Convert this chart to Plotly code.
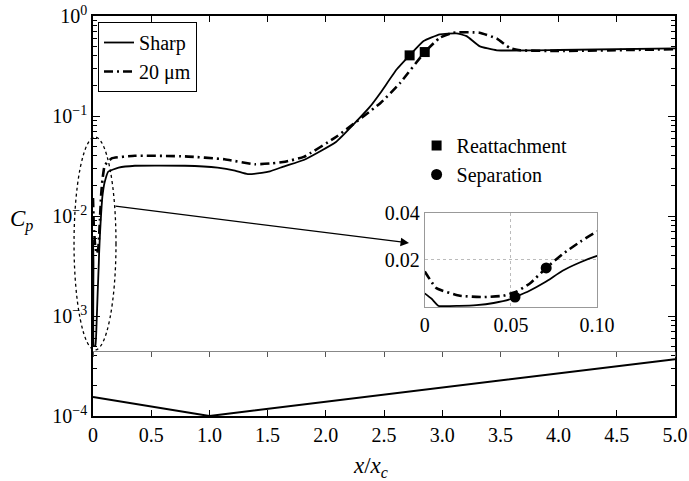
import plotly.graph_objects as go

# ---- data ----
sharp_x = [0, 0.004, 0.008, 0.02, 0.03, 0.04, 0.05, 0.0524, 0.06, 0.07, 0.08, 0.09, 0.10,
           0.13, 0.22, 0.36, 0.79, 1.07, 1.22, 1.33, 1.45, 1.52, 1.65, 1.81, 2.09, 2.38,
           2.47, 2.61, 2.72, 2.84, 2.98, 3.12, 3.21, 3.32, 3.47, 4.0, 5.0]
sharp_y = [0.0058, 0.0035, 0.0005, 0.0005, 0.0008, 0.0017, 0.0034, 0.0042, 0.0066, 0.0106,
           0.0154, 0.0189, 0.0217, 0.0277, 0.0304, 0.0318, 0.0318, 0.0304, 0.0284, 0.0262,
           0.0270, 0.0280, 0.0316, 0.0363, 0.0553, 0.124, 0.171, 0.293, 0.404, 0.562, 0.656,
           0.671, 0.63, 0.50, 0.454, 0.457, 0.475]

rough_x = [0, 0.0068, 0.0204, 0.034, 0.0456, 0.0534, 0.0612, 0.0705, 0.0806, 0.0903, 0.10,
           0.16, 0.36, 0.79, 1.13, 1.39, 1.535, 1.65, 1.81, 2.09, 2.47, 2.64, 2.85, 2.98,
           3.095, 3.32, 3.47, 3.58, 3.67, 4.0, 5.0]
rough_y = [0.0151, 0.0080, 0.0048, 0.0042, 0.0048, 0.0066, 0.0101, 0.0166, 0.0228, 0.0277,
           0.032, 0.0377, 0.040, 0.0395, 0.0369, 0.0329, 0.0336, 0.0349, 0.039, 0.062, 0.135,
           0.215, 0.436, 0.607, 0.681, 0.681, 0.593, 0.48, 0.454, 0.447, 0.465]

reattach_x = [2.72, 2.85]
reattach_y = [0.404, 0.436]
sep_x = [0.0524, 0.0705]
sep_y = [0.0042, 0.0166]

geom_x = [0, 1.0, 5.0]
geom_y = [1.55e-4, 1.0e-4, 3.7e-4]

x_ticks = [0, 0.5, 1.0, 1.5, 2.0, 2.5, 3.0, 3.5, 4.0, 4.5, 5.0]
x_ticktext = ["0", "0.5", "1.0", "1.5", "2.0", "2.5", "3.0", "3.5", "4.0", "4.5", "5.0"]
y_ticks = [1e-4, 1e-3, 1e-2, 1e-1, 1]
y_ticktext = ["10<sup>−4</sup>", "10<sup>−3</sup>", "10<sup>−2</sup>", "10<sup>−1</sup>", "10<sup>0</sup>"]
y_minor = [m * 10.0 ** e for e in range(-4, 0) for m in range(2, 10)]
inset_xticks = [0, 0.05, 0.10]
inset_xtext = ["0", "0.05", "0.10"]
inset_yticks = [0, 0.02, 0.04]
inset_ytext = ["", "0.02", "0.04"]

FONT = "Liberation Serif, Times New Roman, serif"
dashdot = "9px,4px,2px,4px"
SM = 0.4

fig = go.Figure()

fig.add_trace(go.Scatter(x=sharp_x, y=sharp_y, mode="lines", name="Sharp",
                         line=dict(color="black", width=1.8, shape="spline", smoothing=SM),
                         legend="legend"))
fig.add_trace(go.Scatter(x=rough_x, y=rough_y, mode="lines", name="20 μm",
                         line=dict(color="black", width=2.6, dash=dashdot, shape="spline", smoothing=SM),
                         legend="legend"))
fig.add_trace(go.Scatter(x=reattach_x, y=reattach_y, mode="markers", name="Reattachment",
                         marker=dict(symbol="square", size=10, color="black"),
                         legend="legend2"))
fig.add_trace(go.Scatter(x=geom_x, y=geom_y, mode="lines", showlegend=False,
                         line=dict(color="black", width=2), xaxis="x3", yaxis="y"))

fig.add_trace(go.Scatter(x=sharp_x, y=sharp_y, mode="lines", showlegend=False,
                         line=dict(color="black", width=1.8, shape="spline", smoothing=SM),
                         xaxis="x2", yaxis="y2"))
fig.add_trace(go.Scatter(x=rough_x, y=rough_y, mode="lines", showlegend=False,
                         line=dict(color="black", width=2.6, dash=dashdot, shape="spline", smoothing=SM),
                         xaxis="x2", yaxis="y2"))
fig.add_trace(go.Scatter(x=sep_x, y=sep_y, mode="markers", name="Separation",
                         marker=dict(symbol="circle", size=11, color="black"),
                         xaxis="x2", yaxis="y2", legend="legend2"))

fig.update_layout(
    width=689, height=481,
    margin=dict(l=93, r=14, t=16, b=65, autoexpand=False),
    paper_bgcolor="white", plot_bgcolor="white",
    font=dict(family=FONT, size=20, color="black"),
    xaxis=dict(range=[0, 5], tickmode="array", tickvals=x_ticks, ticktext=x_ticktext,
               ticks="inside", ticklen=6, tickcolor="black", showline=True, linecolor="black",
               linewidth=1.5, mirror="ticks", showgrid=False, zeroline=False, automargin=False,
               tickfont=dict(family=FONT, size=20)),
    yaxis=dict(type="log", range=[-4, 0], tickmode="array", tickvals=y_ticks, ticktext=y_ticktext,
               ticks="inside", ticklen=7, tickcolor="black", showline=True, linecolor="black",
               linewidth=1.5, mirror="ticks", showgrid=False, zeroline=False, automargin=False,
               tickfont=dict(family=FONT, size=20),
               minor=dict(tickmode="array", tickvals=y_minor, ticks="inside", ticklen=4,
                          tickcolor="black", showgrid=False)),
    xaxis3=dict(range=[0, 5], overlaying="x", anchor="free", position=0.163, side="bottom",
                tickmode="linear", tick0=0, dtick=0.5, ticks="outside", ticklen=5,
                tickcolor="#555", showticklabels=False, showline=True, linecolor="#888",
                linewidth=1, showgrid=False, zeroline=False, automargin=False),
    xaxis2=dict(domain=[0.570, 0.866], anchor="y2", range=[0, 0.1], tickmode="array",
                tickvals=inset_xticks, ticktext=inset_xtext, ticks="", showline=True,
                linecolor="#999", linewidth=1, mirror=True, showgrid=True, gridcolor="#bbb",
                griddash="dot", gridwidth=1, zeroline=False, automargin=False,
                tickfont=dict(family=FONT, size=20)),
    yaxis2=dict(domain=[0.2725, 0.508], anchor="x2", range=[0, 0.04], tickmode="array",
                tickvals=inset_yticks, ticktext=inset_ytext, ticks="", showline=True,
                linecolor="#999", linewidth=1, mirror=True, showgrid=True, gridcolor="#bbb",
                griddash="dot", gridwidth=1, zeroline=False, automargin=False,
                tickfont=dict(family=FONT, size=20)),
    legend=dict(x=0.0086, y=0.985, xanchor="left", yanchor="top", bgcolor="white",
                bordercolor="black", borderwidth=1, font=dict(family=FONT, size=20),
                itemwidth=30, tracegroupgap=0),
    legend2=dict(x=0.556, y=0.725, xanchor="left", yanchor="top", bgcolor="rgba(0,0,0,0)",
                 borderwidth=0, font=dict(family=FONT, size=20), itemwidth=30),
    showlegend=True,
)

fig.add_shape(type="circle", xref="paper", yref="paper", x0=-0.0326, x1=0.0395,
              y0=0.165, y1=0.6975, line=dict(color="black", width=1.3, dash="dot"))

fig.add_annotation(xref="paper", yref="paper", x=0.543, y=0.4325, ax=-295, ay=-37,
                   axref="pixel", ayref="pixel", text="", showarrow=True, arrowhead=2,
                   arrowsize=1.3, arrowwidth=1.3, arrowcolor="black")

fig.add_annotation(xref="paper", yref="paper", x=-0.1237, y=0.49, text="<i>C<sub>p</sub></i>",
                   showarrow=False, font=dict(family=FONT, size=23), xanchor="center", yanchor="middle")
fig.add_annotation(xref="paper", yref="paper", x=0.476, y=-0.1275, text="<i>x</i>/<i>x<sub>c</sub></i>",
                   showarrow=False, font=dict(family=FONT, size=23), xanchor="center", yanchor="middle")

fig.write_html("out.html")
